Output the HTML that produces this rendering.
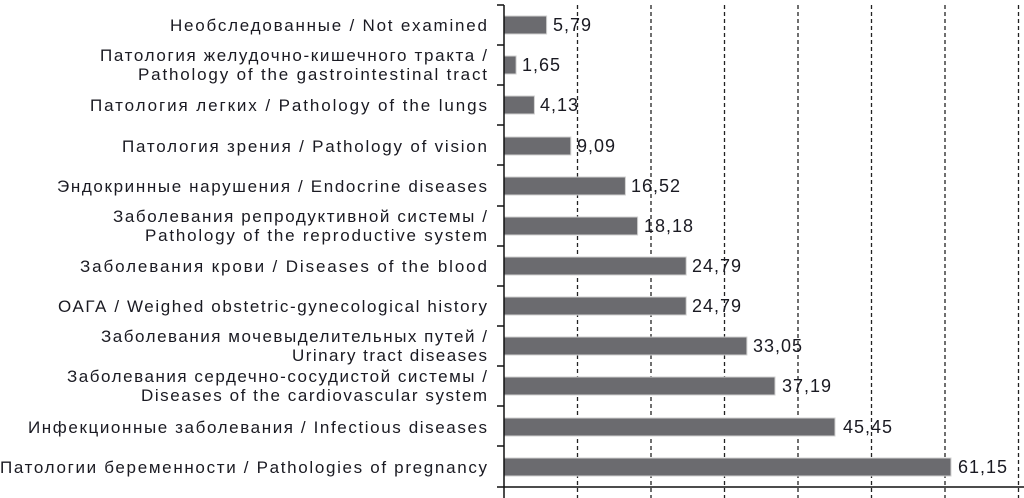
<!DOCTYPE html>
<html><head><meta charset="utf-8"><style>body{margin:0;background:#fff}svg{display:block}text{font-family:"Liberation Sans","DejaVu Sans",sans-serif;font-size:17px;fill:#1a1a22}.v text{font-size:18px;letter-spacing:1px}</style></head><body>
<svg width="1024" height="498" xmlns="http://www.w3.org/2000/svg">
<g stroke="#222" stroke-width="1.3" stroke-dasharray="4,3">
<line x1="577.5" y1="5" x2="577.5" y2="498"/><line x1="651" y1="5" x2="651" y2="498"/><line x1="724.5" y1="5" x2="724.5" y2="498"/><line x1="798" y1="5" x2="798" y2="498"/><line x1="871.5" y1="5" x2="871.5" y2="498"/><line x1="945" y1="5" x2="945" y2="498"/><line x1="1018.5" y1="5" x2="1018.5" y2="498"/>
</g>
<g fill="#6b6b6f" stroke="#d0d0d0" stroke-width="1">
<rect x="504" y="16" width="42.6" height="18"/>
<rect x="504" y="56" width="12.1" height="18"/>
<rect x="504" y="96" width="30.4" height="18"/>
<rect x="504" y="137" width="66.8" height="18"/>
<rect x="504" y="177" width="121.4" height="18"/>
<rect x="504" y="217" width="133.6" height="18"/>
<rect x="504" y="257" width="182.2" height="18"/>
<rect x="504" y="297" width="182.2" height="18"/>
<rect x="504" y="337" width="242.9" height="18"/>
<rect x="504" y="377" width="271" height="18"/>
<rect x="504" y="418" width="331" height="18"/>
<rect x="504" y="458" width="447" height="18"/>
</g>
<g stroke="#111" stroke-width="1.5">
<line x1="504" y1="5" x2="504" y2="498"/><line x1="497" y1="487" x2="1024" y2="487"/>
<line x1="497" y1="5" x2="504" y2="5"/><line x1="497" y1="45" x2="504" y2="45"/><line x1="497" y1="85" x2="504" y2="85"/><line x1="497" y1="125" x2="504" y2="125"/><line x1="497" y1="165" x2="504" y2="165"/><line x1="497" y1="206" x2="504" y2="206"/><line x1="497" y1="246" x2="504" y2="246"/><line x1="497" y1="286" x2="504" y2="286"/><line x1="497" y1="326" x2="504" y2="326"/><line x1="497" y1="366" x2="504" y2="366"/><line x1="497" y1="406" x2="504" y2="406"/><line x1="497" y1="446" x2="504" y2="446"/>
</g>
<g class="v">
<text x="553" y="31">5,79</text>
<text x="522" y="71">1,65</text>
<text x="540" y="111">4,13</text>
<text x="577" y="152">9,09</text>
<text x="631" y="192">16,52</text>
<text x="644" y="232">18,18</text>
<text x="692" y="272">24,79</text>
<text x="692" y="312">24,79</text>
<text x="753" y="352">33,05</text>
<text x="782" y="392">37,19</text>
<text x="843" y="433">45,45</text>
<text x="958" y="473">61,15</text>
</g>
<g text-anchor="end">
<text x="487" y="31" textLength="317" lengthAdjust="spacing">Необследованные / Not examined</text>
<text x="487" y="61" textLength="387" lengthAdjust="spacing">Патология желудочно-кишечного тракта /</text>
<text x="487" y="80" textLength="349" lengthAdjust="spacing">Pathology of the gastrointestinal tract</text>
<text x="487" y="111" textLength="397" lengthAdjust="spacing">Патология легких / Pathology of the lungs</text>
<text x="487" y="152" textLength="365" lengthAdjust="spacing">Патология зрения / Pathology of vision</text>
<text x="487" y="192" textLength="430" lengthAdjust="spacing">Эндокринные нарушения / Endocrine diseases</text>
<text x="487" y="222" textLength="374" lengthAdjust="spacing">Заболевания репродуктивной системы /</text>
<text x="487" y="241" textLength="342" lengthAdjust="spacing">Pathology of the reproductive system</text>
<text x="487" y="272" textLength="407" lengthAdjust="spacing">Заболевания крови / Diseases of the blood</text>
<text x="487" y="312" textLength="429" lengthAdjust="spacing">ОАГА / Weighed obstetric-gynecological history</text>
<text x="487" y="342" textLength="386" lengthAdjust="spacing">Заболевания мочевыделительных путей /</text>
<text x="487" y="361" textLength="195" lengthAdjust="spacing">Urinary tract diseases</text>
<text x="487" y="382" textLength="420" lengthAdjust="spacing">Заболевания сердечно-сосудистой системы /</text>
<text x="487" y="401" textLength="346" lengthAdjust="spacing">Diseases of the cardiovascular system</text>
<text x="487" y="433" textLength="459" lengthAdjust="spacing">Инфекционные заболевания / Infectious diseases</text>
<text x="487" y="473" textLength="487" lengthAdjust="spacing">Патологии беременности / Pathologies of pregnancy</text>
</g>
</svg>
</body></html>
